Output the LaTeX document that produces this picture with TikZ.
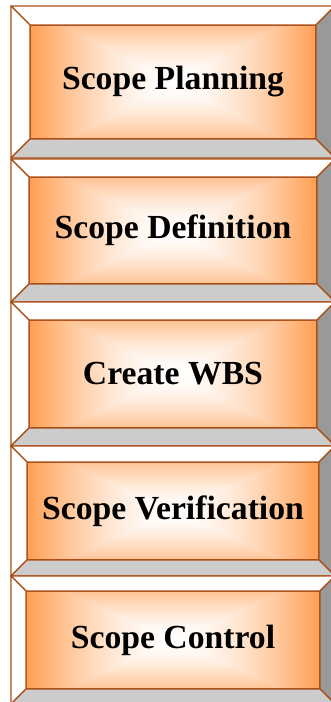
\documentclass[tikz,border=0pt]{standalone}
\usepackage{fontspec}
\setmainfont{Liberation Serif}
\definecolor{rim}{RGB}{170,78,24}
\definecolor{bevlight}{RGB}{204,204,204}
\definecolor{bevdark}{RGB}{153,153,153}
\pgfdeclarefunctionalshading{facefade}{\pgfpoint{-50bp}{-50bp}}{\pgfpoint{50bp}{50bp}}{}{
abs 0.75 mul exch abs 2 copy lt {exch} if pop
25 div dup 1 gt {pop 1} if
1.6 exp
1 exch dup 0.38 mul 1 exch sub exch 0.68 mul 1 exch sub
}
\tikzset{
  frame/.style={minimum width=324pt,inner sep=0pt,outer sep=0pt},
  face/.style={draw=rim,line width=1.3pt,shading=facefade,inner sep=0pt,outer sep=0pt,
    font=\bfseries\fontsize{33.7}{40}\selectfont},
  bevel/.style={draw=rim,line width=1.3pt,line join=round}
}
\begin{document}
\begin{tikzpicture}[x=1pt,y=-1pt]
\clip(0,0) rectangle (331,702);

\node[frame,minimum height=152pt](plan-out) at (173,82){};
\node[face,minimum width=286pt,minimum height=114pt](plan) at (173,82){Scope Planning};
\node[frame,minimum height=143pt](def-out) at (173,230.5){};
\node[face,minimum width=288pt,minimum height=107pt](def) at (173,230.5){Scope Definition};
\node[frame,minimum height=144pt](wbs-out) at (173,374){};
\node[face,minimum width=288pt,minimum height=108pt](wbs) at (173,374){Create WBS};
\node[frame,minimum height=130pt](verif-out) at (173,511){};
\node[face,minimum width=292pt,minimum height=98pt](verif) at (173,511){Scope Verification};
\node[frame,minimum height=128pt](ctrl-out) at (173,640){};
\node[face,minimum width=294pt,minimum height=98pt](ctrl) at (173,640){Scope Control};

% bevels round each face
\foreach \n in {plan,def,wbs,verif,ctrl}{
\filldraw[bevel,fill=white](\n-out.north west)--(\n-out.north east)--(\n.north east)--(\n.north west)--cycle;
\filldraw[bevel,fill=white](\n-out.north west)--(\n-out.south west)--(\n.south west)--(\n.north west)--cycle;
\filldraw[bevel,fill=bevdark](\n-out.north east)--(\n-out.south east)--(\n.south east)--(\n.north east)--cycle;
\filldraw[bevel,fill=bevlight](\n-out.south west)--(\n-out.south east)--(\n.south east)--(\n.south west)--cycle;
}
\end{tikzpicture}
\end{document}
